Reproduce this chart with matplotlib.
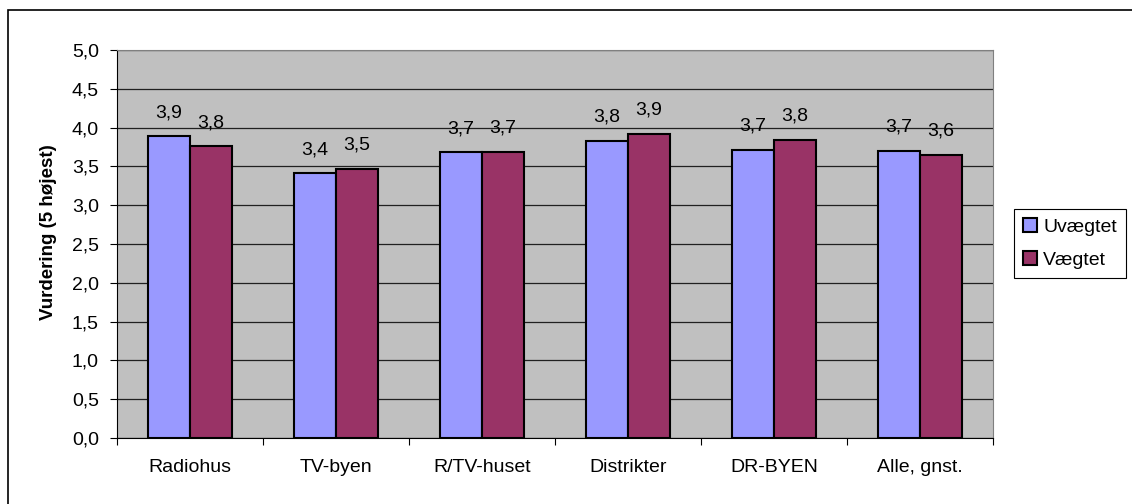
import matplotlib
matplotlib.use("Agg")
import matplotlib.pyplot as plt
from matplotlib.patches import Rectangle, Patch
from matplotlib.ticker import FuncFormatter, MultipleLocator

plt.rcParams['font.family'] = ['Liberation Sans', 'DejaVu Sans']

categories = ["Radiohus", "TV-byen", "R/TV-huset", "Distrikter", "DR-BYEN", "Alle, gnst."]
uvaegtet = [3.89, 3.41, 3.68, 3.83, 3.71, 3.70]
vaegtet = [3.76, 3.47, 3.69, 3.92, 3.84, 3.65]
series_names = ["Uvægtet", "Vægtet"]

W, H = 1132, 504
FS = 14
fig = plt.figure(figsize=(W / 100, H / 100), dpi=100)

# ramme om hele diagrammet (kun top og venstre kant er synlig)
fig.patches.append(Rectangle((8 / W, -0.2), 1.2, 1.2 - 10 / H, transform=fig.transFigure,
                             fill=False, edgecolor='black', linewidth=1.2))

left, right, top, bottom = 117, 993, 50, 438
ax = fig.add_axes([left / W, (H - bottom) / H, (right - left) / W, (bottom - top) / H])
ax.set_facecolor('#C0C0C0')

x = list(range(len(categories)))
bw = 0.288
ax.bar([i - bw / 2 for i in x], uvaegtet, bw, color='#9999FF', edgecolor='black', linewidth=1.5, zorder=3)
ax.bar([i + bw / 2 for i in x], vaegtet, bw, color='#993366', edgecolor='black', linewidth=1.5, zorder=3)

for i in x:
    for dx, v in ((-bw / 2, uvaegtet[i]), (bw / 2, vaegtet[i])):
        ax.annotate(f"{v:.1f}".replace('.', ','), (i + dx, v), xytext=(0, 17), textcoords='offset points',
                    ha='center', va='center', fontsize=FS)

ax.set_ylim(0, 5)
ax.set_xlim(-0.5, len(categories) - 0.5)
ax.yaxis.set_major_locator(MultipleLocator(0.5))
ax.yaxis.set_major_formatter(FuncFormatter(lambda v, p: f"{v:.1f}".replace('.', ',')))
ax.grid(axis='y', color='#202020', linewidth=0.9, zorder=1)

ax.set_xticks([i - 0.5 for i in range(len(categories) + 1)])
ax.set_xticklabels([])
ax.set_xticks(x, minor=True)
ax.set_xticklabels(categories, minor=True)
ax.tick_params(axis='x', which='major', length=5, direction='out', color='black')
ax.tick_params(axis='x', which='minor', length=0, pad=15, labelsize=FS)
ax.tick_params(axis='y', length=5, direction='out', labelsize=FS, pad=8)

for s in ('top', 'right'):
    ax.spines[s].set_color('#808080')
for s in ('left', 'bottom'):
    ax.spines[s].set_color('black')

ax.set_ylabel("Vurdering (5 højest)", fontsize=13.5, fontweight='bold')
ax.yaxis.set_label_coords((57 - left) / (right - left), (bottom - 232) / (bottom - top))

handles = [Patch(facecolor='#9999FF', edgecolor='black', linewidth=1.5),
           Patch(facecolor='#993366', edgecolor='black', linewidth=1.5)]
leg = fig.legend(handles, series_names, loc='upper left', bbox_to_anchor=(1014 / W, 1 - 209 / H),
                 fontsize=FS, frameon=True, fancybox=False, edgecolor='black', framealpha=1,
                 handlelength=0.75, handleheight=0.75, handletextpad=0.3, borderpad=0.45,
                 labelspacing=0.8, borderaxespad=0)
leg.get_frame().set_linewidth(0.8)

fig.savefig("out.png", dpi=100)
